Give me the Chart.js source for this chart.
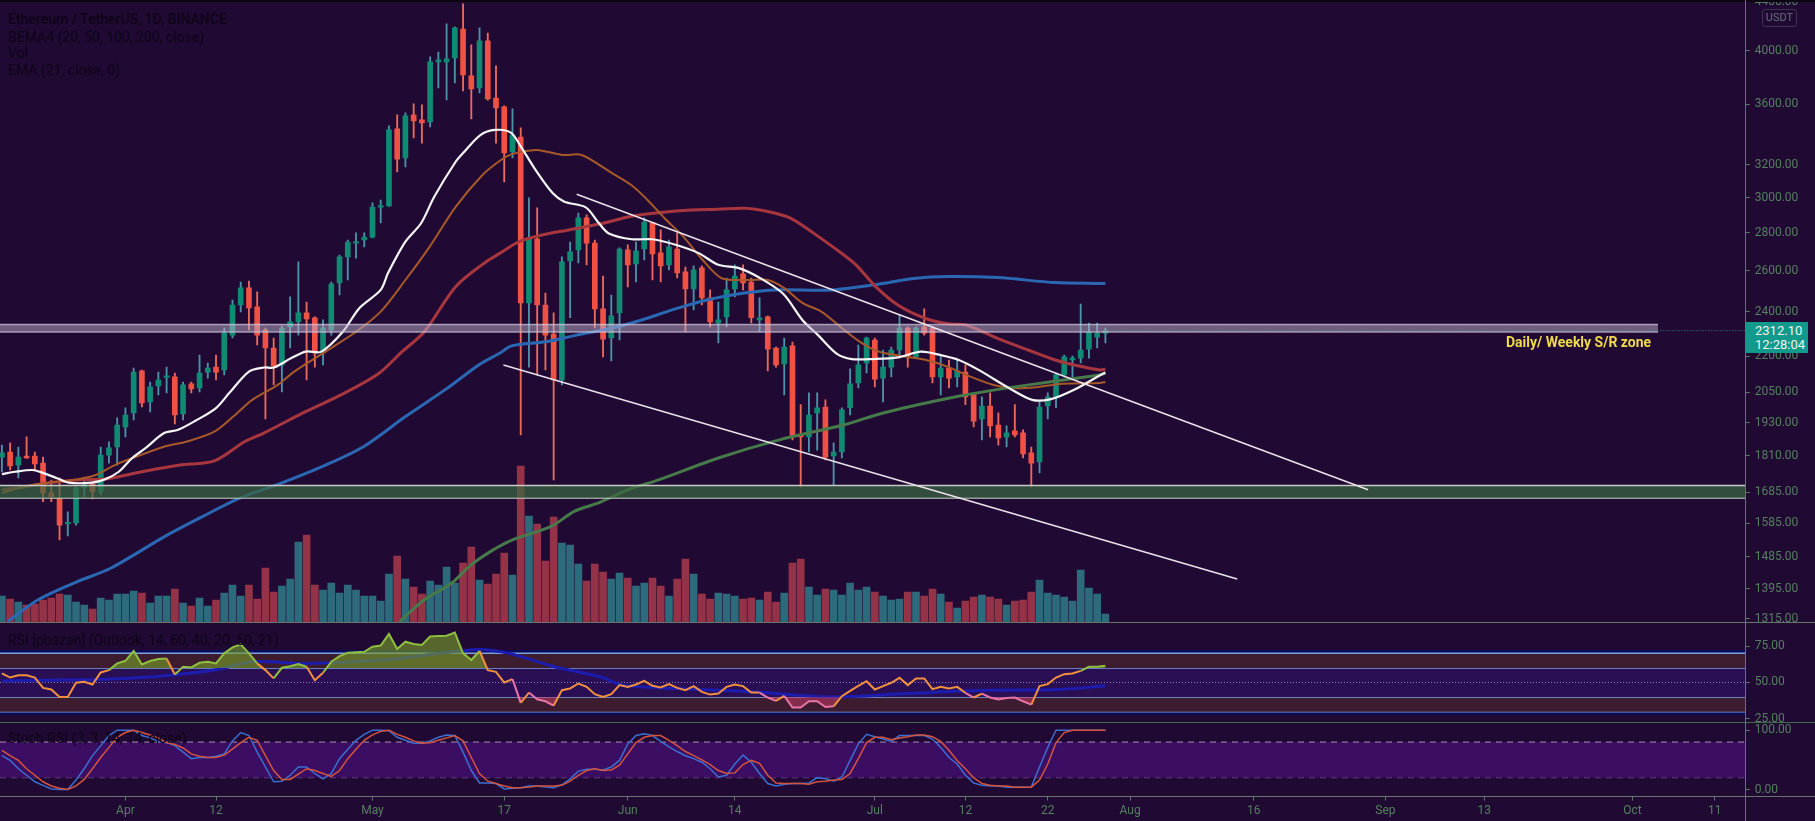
<!DOCTYPE html>
<html>
<head>
<meta charset="utf-8">
<title>ETH/USDT</title>
<script src="https://cdn.jsdelivr.net/npm/chart.js@4/dist/chart.umd.min.js"></script>
<style>
    html, body { margin: 0; padding: 0; background: #200a33; overflow: hidden; }
    #page { position: relative; width: 1815px; height: 821px; background: #200a33; font-family: Roboto, sans-serif; }
    canvas { position: absolute; left: 0; display: block; }
    .rule { position: absolute; background: #68756b; }
    .legend { position: absolute; left: 8px; color: #0e0418; font-size: 14px; white-space: nowrap; line-height: 16px; }
    #unit { position: absolute; left: 1762px; top: 9px; width: 33px; height: 16px; border: 1px solid #3c3550; border-radius: 3px; color: #66727a; font-size: 11px; line-height: 16px; text-align: center; }
    #priceTag { position: absolute; left: 1745px; width: 63px; height: 31px; background: #0f9a8c; color: #f2f2f2; font-size: 13px; line-height: 14px; padding-top: 2px; box-sizing: border-box; }
    #priceTag div { padding-left: 10px; }
    #zoneLabel { position: absolute; left: 1506px; top: 334px; color: #f0d94c; font-size: 14px; font-weight: 700; white-space: nowrap; }
</style>
</head>
<body>
<div id="page">
    <canvas id="priceChart" width="1815" height="622" style="top:0"></canvas>
    <canvas id="rsiChart" width="1815" height="100" style="top:622px"></canvas>
    <canvas id="stochChart" width="1815" height="99" style="top:722px"></canvas>

    <div class="rule" style="left:0;top:0;width:1815px;height:2px;background:#0b0610"></div>
    <div class="rule" style="left:0;top:622px;width:1815px;height:1px"></div>
    <div class="rule" style="left:0;top:722px;width:1815px;height:1px;background:#3f6e4c"></div>
    <div class="rule" style="left:0;top:796px;width:1815px;height:1px"></div>
    <div class="rule" style="left:1745px;top:0;width:1px;height:821px"></div>

    <div class="legend" style="top:11px;font-weight:500">Ethereum / TetherUS, 1D, BINANCE</div>
    <div class="legend" style="top:29px">BEMA4 (20, 50, 100, 200, close)</div>
    <div class="legend" style="top:45px">Vol</div>
    <div class="legend" style="top:62px">EMA (21, close, 0)</div>
    <div class="legend" style="top:632px">RSI [pbazan] (Outlook, 14, 60, 40, 20, 50, 21)</div>
    <div class="legend" style="top:730px">Stoch RSI (3, 3, 14, 14, close)</div>

    <div id="unit">USDT</div>
    <div id="priceTag"><div id="tagPrice"></div><div>12:28:04</div></div>
    <div id="zoneLabel">Daily/ Weekly S/R zone</div>
</div>

<script>
// ============================================
// Data
// ============================================

const opens = [
    1805, 1823, 1777, 1809, 1809, 1784, 1683, 1667, 1584, 1587,
    1700, 1713, 1686, 1812, 1841, 1915, 1968, 2137, 2011, 2075,
    2110, 2112, 1964, 2083, 2067, 2132, 2153, 2141, 2292, 2431,
    2514, 2422, 2315, 2235, 2162, 2329, 2352, 2394, 2371, 2213,
    2315, 2538, 2671, 2744, 2761, 2777, 2945, 2951, 3432, 3242,
    3527, 3493, 3479, 3913, 3913, 3944, 4173, 3807, 3719, 4077,
    3646, 3583, 3280, 3378, 2441, 2766, 2431, 2297, 2099, 2650,
    2708, 2883, 2744, 2413, 2279, 2394, 2708, 2635, 2713, 2855,
    2692, 2630, 2713, 2594, 2509, 2614, 2465, 2347, 2375, 2509,
    2584, 2543, 2361, 2375, 2235, 2166, 2244, 1885, 1878, 1968,
    1991, 1809, 1823, 1988, 2087, 2170, 2270, 2107, 2153, 2226,
    2324, 2196, 2329, 2324, 2112, 2149, 2112, 2132, 2039, 1945,
    1995, 1922, 1878, 1900, 1893, 1820, 1788, 1995, 2027, 2120,
    2183, 2191, 2230, 2283, 2301,
];

const closes = [
    1820, 1774, 1805, 1802, 1781, 1683, 1667, 1580, 1587, 1700,
    1709, 1686, 1812, 1838, 1922, 1960, 2132, 2007, 2071, 2099,
    2112, 1960, 2079, 2063, 2128, 2149, 2132, 2301, 2431, 2514,
    2417, 2292, 2235, 2157, 2324, 2352, 2394, 2366, 2213, 2324,
    2533, 2671, 2750, 2750, 2777, 2945, 2951, 3425, 3235, 3520,
    3486, 3472, 3913, 3928, 3936, 4182, 3814, 3711, 4077, 3639,
    3576, 3274, 3391, 2441, 2766, 2431, 2292, 2099, 2645, 2698,
    2883, 2744, 2413, 2274, 2380, 2713, 2630, 2703, 2860, 2687,
    2625, 2724, 2589, 2509, 2604, 2465, 2352, 2361, 2504, 2573,
    2538, 2371, 2371, 2230, 2162, 2239, 1878, 1878, 1960, 1988,
    1805, 1823, 1980, 2083, 2162, 2279, 2103, 2153, 2226, 2324,
    2196, 2324, 2301, 2112, 2149, 2107, 2137, 2031, 1937, 1995,
    1919, 1874, 1893, 1885, 1816, 1784, 1991, 2031, 2120, 2196,
    2191, 2226, 2306, 2301, 2312.10,
];

const highs = [
    1848, 1856, 1841, 1878, 1823, 1805, 1726, 1733, 1622, 1703,
    1726, 1719, 1841, 1860, 1949, 1988, 2149, 2140, 2091, 2132,
    2153, 2128, 2091, 2091, 2204, 2170, 2204, 2324, 2455, 2543,
    2548, 2494, 2324, 2279, 2333, 2470, 2645, 2445, 2375, 2361,
    2543, 2681, 2761, 2800, 2800, 2969, 2986, 3452, 3527, 3541,
    3604, 3597, 3951, 3989, 4215, 4190, 4383, 4045, 4182, 4141,
    3882, 3590, 3569, 3439, 2998, 2940, 2489, 2394, 2671, 2750,
    2911, 2900, 2761, 2573, 2479, 2719, 2735, 2750, 2883, 2860,
    2816, 2761, 2800, 2619, 2625, 2625, 2504, 2445, 2563, 2630,
    2630, 2563, 2465, 2380, 2239, 2279, 2261, 2000, 2047, 2047,
    2019, 1856, 1988, 2145, 2248, 2283, 2279, 2226, 2239, 2385,
    2329, 2329, 2413, 2329, 2196, 2183, 2183, 2162, 2047, 2031,
    2047, 1968, 1919, 2000, 1904, 1841, 2011, 2047, 2128, 2204,
    2200, 2436, 2347, 2347, 2324,
];

const lows = [
    1753, 1760, 1733, 1800, 1760, 1654, 1654, 1535, 1547, 1580,
    1670, 1663, 1676, 1784, 1777, 1878, 1941, 1991, 1972, 2039,
    2047, 1926, 1941, 2047, 2051, 2107, 2099, 2120, 2279, 2398,
    2315, 2248, 1945, 2079, 2051, 2235, 2292, 2099, 2153, 2162,
    2292, 2479, 2553, 2665, 2724, 2772, 2855, 2948, 3155, 3186,
    3371, 3338, 3445, 3719, 3632, 3755, 3697, 3500, 3682, 3630,
    3338, 3093, 3242, 1885, 2153, 2120, 2141, 1726, 2079, 2371,
    2640, 2630, 2324, 2196, 2179, 2270, 2519, 2543, 2655, 2553,
    2543, 2604, 2563, 2306, 2408, 2431, 2329, 2257, 2329, 2470,
    2504, 2347, 2306, 2137, 2153, 2039, 1867, 1703, 1823, 1830,
    1795, 1709, 1802, 1960, 2067, 2128, 2071, 2011, 2112, 2196,
    2153, 2191, 2292, 2087, 2039, 2067, 2071, 2000, 1915, 1867,
    1878, 1848, 1841, 1878, 1802, 1703, 1750, 1945, 1988, 2112,
    2112, 2170, 2191, 2235, 2257,
];

const volumes = [
    26, 23, 20, 17, 18, 22, 24, 28, 27, 20,
    17, 13, 24, 22, 28, 28, 31, 29, 19, 26,
    26, 33, 19, 16, 24, 16, 22, 29, 37, 26,
    37, 23, 54, 30, 36, 43, 80, 87, 37, 32,
    39, 29, 37, 32, 26, 26, 21, 48, 66, 43,
    35, 28, 41, 37, 55, 39, 59, 75, 42, 38,
    48, 69, 47, 156, 106, 98, 61, 105, 79, 77,
    58, 41, 58, 50, 43, 49, 44, 36, 39, 44,
    36, 26, 43, 63, 48, 28, 23, 29, 28, 26,
    23, 24, 22, 30, 20, 29, 59, 63, 35, 27,
    33, 32, 27, 39, 32, 35, 30, 26, 22, 23,
    30, 30, 26, 33, 28, 20, 14, 21, 25, 27,
    25, 23, 17, 21, 22, 30, 42, 29, 27, 25,
    21, 52, 34, 28, 8,
];

const ema20Idx = [0, 1.6, 3.7, 4.9, 6.7, 8.1, 10.9, 12.5, 14.2, 15.8, 17.4, 19.7, 21.4, 23.5, 26, 27.6, 30, 31.8, 33, 35.1, 36.9, 38.8, 41.4, 43.4, 46, 46.9, 49, 50.9, 52.5, 55.1, 56, 58.1, 59.9, 61.8, 63, 64.8, 66.9, 68.3, 70.9, 72.5, 73.7, 76.5, 79, 81.9, 84.6, 87, 89.5, 92.1, 94.9, 97.2, 99.1, 101.4, 103.2, 105.8, 108.8, 111.6, 114, 116.2, 118.6, 122.3, 125.1, 127.4, 130.2, 133.4, 134];
const ema20Vals = [1746, 1754, 1760, 1751, 1732, 1717, 1717, 1728, 1754, 1801, 1836, 1892, 1904, 1938, 1987, 2046, 2134, 2151, 2151, 2190, 2219, 2219, 2307, 2416, 2504, 2589, 2752, 2853, 3005, 3218, 3273, 3391, 3425, 3407, 3317, 3167, 3025, 2976, 2943, 2853, 2797, 2765, 2765, 2734, 2691, 2630, 2613, 2562, 2484, 2361, 2292, 2209, 2187, 2187, 2194, 2219, 2204, 2183, 2141, 2066, 2019, 2022, 2059, 2120, 2130];

const ema50Idx = [0, 2.1, 4.6, 9.1, 11.4, 13.7, 16, 19.7, 22.5, 25.8, 28.1, 30.4, 33.5, 35.5, 39.3, 43, 46, 49, 51.8, 55.1, 58.3, 60.6, 62, 64.8, 66.2, 68.1, 70.4, 73.9, 76.5, 78.4, 80.5, 82.8, 85.1, 87.4, 90.7, 93, 95, 97.2, 99.5, 101.8, 104.2, 106.5, 109.8, 112, 114.8, 117.6, 120.4, 122.7, 125.6, 128.8, 133.3, 134];
const ema50Vals = [1682, 1699, 1713, 1728, 1743, 1777, 1803, 1842, 1861, 1897, 1954, 2019, 2079, 2134, 2219, 2307, 2400, 2553, 2716, 2946, 3133, 3229, 3268, 3293, 3282, 3261, 3261, 3153, 3072, 2986, 2880, 2777, 2655, 2562, 2553, 2553, 2513, 2441, 2400, 2330, 2262, 2219, 2197, 2185, 2155, 2113, 2079, 2066, 2070, 2084, 2087, 2091];

const ema100Idx = [0, 2.6, 5.8, 9.1, 12.8, 17, 21.6, 25.8, 29.5, 31.8, 36.5, 41.6, 45.8, 48.6, 51.3, 55.1, 58.8, 60.5, 62.8, 65.1, 68.8, 73, 76.3, 80, 83.7, 87, 90.2, 93, 95.8, 98.6, 101.4, 103.7, 106.1, 108.8, 112, 114.8, 117.1, 120.9, 124.6, 127.9, 131.1, 133.3, 134];
const ema100Vals = [1693, 1702, 1717, 1726, 1730, 1754, 1777, 1792, 1861, 1892, 1967, 2046, 2127, 2219, 2307, 2520, 2646, 2691, 2752, 2783, 2816, 2853, 2891, 2914, 2928, 2932, 2938, 2919, 2881, 2797, 2708, 2630, 2520, 2431, 2370, 2343, 2338, 2277, 2226, 2183, 2155, 2141, 2144];

const ema200Idx = [0.7, 4.4, 9.1, 13.2, 19.7, 24.4, 29, 33.7, 39.3, 43.9, 49, 54.1, 57.9, 60.5, 61.9, 66, 69.8, 74, 77.7, 81.4, 85.6, 90.2, 93.9, 100.9, 106.1, 110.7, 114.8, 120.9, 127.9, 133.3, 134];
const ema200Vals = [1308, 1365, 1414, 1452, 1544, 1607, 1667, 1713, 1777, 1842, 1954, 2066, 2162, 2213, 2244, 2262, 2292, 2323, 2361, 2408, 2455, 2489, 2504, 2504, 2530, 2560, 2570, 2565, 2540, 2536, 2536];

const volEmaIdx = [48.3, 51.3, 54.6, 56.9, 59.3, 62, 66.7, 69.5, 72.6, 76, 80, 87, 94.4, 102.3, 106.9, 116.3, 122.8, 133.3, 134];
const volEmaVals = [1308, 1365, 1410, 1460, 1500, 1535, 1576, 1623, 1652, 1693, 1729, 1802, 1867, 1923, 1967, 2034, 2070, 2120, 2127];

const rsiValues = [
    56.2, 53.4, 55, 55, 53.4, 46.3, 45.2, 40.1, 40.1, 49.8,
    50.5, 48.6, 56.9, 58.5, 63.1, 64.9, 71.6, 62.4, 64.7, 66.1,
    66.5, 55.5, 60.8, 60.3, 63.5, 64.2, 63.1, 70, 74.1, 76.2,
    70, 63.1, 58.5, 52.8, 60.1, 61.2, 62.6, 60.8, 51.6, 56.7,
    64.2, 68.1, 70.4, 70.7, 71.1, 74.6, 75.3, 83.3, 73, 78,
    76.4, 75.7, 81.5, 81.9, 82.1, 84.2, 70, 65.4, 71.6, 58.5,
    57.3, 50, 52.3, 36, 43.1, 38.5, 37.1, 34.2, 44.7, 45.9,
    49.3, 47, 42, 40.1, 42, 48.2, 47, 48.6, 51.1, 47.7,
    46.6, 48.9, 46.3, 44.7, 47.5, 43.6, 41.7, 42.4, 47, 48.6,
    47.5, 43.1, 43.1, 39.7, 37.4, 40.8, 32.8, 32.8, 37.1, 37.1,
    33.2, 33.7, 40.6, 44.3, 47.7, 50.9, 45.2, 47.5, 49.8, 53.2,
    48.2, 52.8, 52.8, 45.4, 47, 45.9, 47, 42.9, 39.7, 42.4,
    39.7, 38.3, 39.4, 39.7, 37.1, 34.8, 47.5, 48.9, 53.4, 55.7,
    56.2, 58, 60.8, 60.8, 61.5,
];

const rsiMaIdx = [0, 4.4, 11.4, 18.4, 25.8, 30.4, 36.9, 46.2, 53.2, 57.9, 61.6, 67.1, 72.6, 75.4, 81.9, 91.2, 100.5, 109.8, 119.1, 128.4, 134];
const rsiMaVals = [51, 51.6, 52, 53.9, 58.5, 64.2, 63.1, 65.4, 70, 72.7, 70, 60.8, 53.9, 48.2, 45.9, 43.6, 40.1, 42.4, 44.7, 45.2, 47.7];

const stochK = [
    57, 49, 35, 24, 13, 7, 1, 0, 0, 16,
    35, 57, 74, 91, 100, 100, 100, 91, 87, 81,
    79, 74, 63, 52, 54, 54, 56, 60, 82, 96,
    91, 63, 38, 13, 14, 24, 38, 38, 27, 18,
    27, 52, 68, 83, 93, 100, 100, 99, 88, 83,
    78, 78, 82, 88, 92, 91, 63, 32, 11, 11,
    10, 1, 2, 3, 6, 6, 4, 3, 8, 18,
    31, 34, 34, 33, 38, 49, 77, 91, 94, 91,
    81, 72, 64, 57, 52, 46, 35, 21, 24, 43,
    58, 46, 27, 10, 6, 9, 10, 10, 11, 20,
    18, 14, 21, 49, 77, 93, 89, 85, 81, 91,
    91, 91, 91, 85, 71, 54, 43, 24, 11, 7,
    6, 6, 4, 4, 4, 4, 38, 71, 100, 100,
    100, 100, 100, 100, 100,
];

const stochD = [
    66, 57, 49, 35, 24, 13, 6, 2, 0, 6,
    17, 35, 54, 71, 88, 96, 100, 96, 92, 87,
    79, 76, 70, 60, 56, 54, 54, 58, 68, 79,
    88, 83, 57, 32, 17, 17, 26, 35, 32, 27,
    22, 32, 52, 68, 83, 92, 98, 100, 93, 88,
    82, 78, 79, 83, 87, 91, 82, 54, 27, 14,
    10, 6, 3, 3, 4, 6, 6, 6, 7, 14,
    24, 32, 35, 32, 33, 41, 60, 79, 88, 91,
    91, 83, 74, 64, 57, 50, 42, 32, 27, 28,
    42, 49, 44, 24, 11, 10, 10, 10, 9, 13,
    14, 16, 17, 27, 52, 79, 88, 88, 84, 87,
    89, 92, 92, 89, 81, 66, 49, 35, 20, 10,
    7, 6, 6, 4, 4, 4, 16, 43, 79, 96,
    100, 100, 100, 100, 100,
];

const priceTicks = [1315, 1395, 1485, 1585, 1685, 1810, 1930, 2050, 2200, 2400, 2600, 2800, 3000, 3200, 3600, 4000, 4400];
const rsiTicks = [25, 50, 75];
const stochTicks = [0, 100];
const xTickIdx = [15, 26, 45, 61, 76, 89, 106, 117, 127, 137, 152, 168, 180, 198, 208];
const xTickLabels = ["Apr", "12", "May", "17", "Jun", "14", "Jul", "12", "22", "Aug", "16", "Sep", "13", "Oct", "11"];

// Drawings on the price pane: [start index, start price, end index, end price]
const upperTrend = [69.8, 3020, 165.9, 1693];
const lowerTrend = [60.9, 2162, 150, 1422];
const srZone = [2306, 2340];
const srZoneEnd = 201.1;
const demandZone = [1666, 1707];

// ============================================
// Helpers
// ============================================

const X_MIN = -0.23;
const X_MAX = 211.75;
const AXIS_COLOR = "#5f7a66";
const LABEL_COLOR = "#55805f";
const FONT = { family: "Roboto, sans-serif", size: 12 };
const AXIS_WIDTH = 69.3;

const isUp = (i) => closes[i] >= opens[i];

function toPoints(idx, vals) {
    return idx.map((x, i) => ({ x: x, y: vals[i] }));
}

function bySeries(vals) {
    return vals.map((v, i) => ({ x: i, y: v }));
}

function level(value, end) {
    return [{ x: X_MIN, y: value }, { x: end === undefined ? X_MAX : end, y: value }];
}

function trend(t) {
    return [{ x: t[0], y: t[1] }, { x: t[2], y: t[3] }];
}

function lineSet(data, color, width, order, extra) {
    return Object.assign({
        type: "line",
        data: data,
        borderColor: color,
        borderWidth: width,
        pointRadius: 0,
        tension: 0,
        fill: false,
        order: order,
    }, extra || {});
}

// tick labels must not push the plot area in, the panes touch each other
function noLabelPadding(scale) {
    scale.paddingTop = 0;
    scale.paddingBottom = 0;
    scale.paddingLeft = 0;
    scale.paddingRight = 0;
}

function hiddenX() {
    return { type: "linear", min: X_MIN, max: X_MAX, offset: false, display: false };
}

function rightAxis(min, max, ticks, type) {
    return {
        type: type || "linear",
        position: "right",
        min: min,
        max: max,
        afterFit: (scale) => {
            scale.width = AXIS_WIDTH;
            noLabelPadding(scale);
        },
        afterBuildTicks: (scale) => { scale.ticks = ticks.map((v) => ({ value: v })); },
        border: { display: false },
        grid: { drawOnChartArea: false, tickLength: 4, color: AXIS_COLOR },
        ticks: {
            autoSkip: false,
            maxRotation: 0,
            padding: 5,
            color: LABEL_COLOR,
            font: FONT,
            callback: (v) => Number(v).toFixed(2),
        },
    };
}

const baseOptions = {
    responsive: false,
    animation: false,
    devicePixelRatio: 1,
    events: [],
    layout: { padding: 0 },
    plugins: { legend: { display: false }, tooltip: { enabled: false } },
};

// ============================================
// Price pane
// ============================================

const candleIdx = opens.map((_, i) => i);

new Chart(document.getElementById("priceChart"), {
    type: "bar",
    data: {
        datasets: [
            {
                yAxisID: "vol",
                data: volumes.map((v, i) => ({ x: i, y: v })),
                backgroundColor: candleIdx.map((i) => (isUp(i) ? "#2d6a7c" : "#943247")),
                barThickness: 7,
                grouped: false,
                order: 100,
            },
            {
                data: candleIdx.map((i) => ({ x: i, y: [lows[i], highs[i]] })),
                backgroundColor: candleIdx.map((i) => (isUp(i) ? "#4a93a8" : "#ea6a5c")),
                barThickness: 1.2,
                grouped: false,
                order: 90,
            },
            {
                data: candleIdx.map((i) => ({ x: i, y: [opens[i], closes[i]] })),
                backgroundColor: candleIdx.map((i) => (isUp(i) ? "#0f8a73" : "#ef5145")),
                barThickness: 5,
                minBarLength: 1.5,
                grouped: false,
                order: 80,
            },
            lineSet(toPoints(ema200Idx, ema200Vals), "#2a68b4", 3, 70, { tension: 0.3 }),
            lineSet(toPoints(ema100Idx, ema100Vals), "#a8363f", 3, 69, { tension: 0.3 }),
            lineSet(toPoints(ema50Idx, ema50Vals), "#a8592a", 2, 68, { tension: 0.3 }),
            lineSet(toPoints(volEmaIdx, volEmaVals), "#477a4a", 3, 67, { tension: 0.3 }),
            lineSet(toPoints(ema20Idx, ema20Vals), "#f5f5f5", 2.2, 66, { tension: 0.3 }),
            lineSet(level(srZone[1], srZoneEnd), "rgba(215,205,225,0.7)", 1.5, 55, { fill: "+1", backgroundColor: "rgba(190,175,205,0.5)" }),
            lineSet(level(srZone[0], srZoneEnd), "rgba(215,205,225,0.7)", 1.5, 55.1),
            lineSet(level(demandZone[1]), "#c8cbc8", 1.5, 54, { fill: "+1", backgroundColor: "rgba(58,104,66,0.7)" }),
            lineSet(level(demandZone[0]), "#c8cbc8", 1.5, 54.1),
            lineSet(trend(upperTrend), "#ebe3eb", 1.5, 50),
            lineSet(trend(lowerTrend), "#ebe3eb", 1.5, 50),
            lineSet([{ x: 134, y: closes[134] }, { x: X_MAX, y: closes[134] }], "#3a8a80", 1, 49, { borderDash: [1, 2] }),
        ],
    },
    options: Object.assign({}, baseOptions, {
        scales: {
            x: hiddenX(),
            y: rightAxis(1307, 4417, priceTicks, "logarithmic"),
            vol: { type: "linear", min: 0, max: 622, display: false },
        },
    }),
    plugins: [{
        id: "priceTag",
        afterDraw(chart) {
            const y = chart.scales.y.getPixelForValue(closes[134]);
            const tag = document.getElementById("priceTag");
            tag.style.top = Math.round(y - 9) + "px";
            document.getElementById("tagPrice").textContent = closes[134].toFixed(2);
        },
    }],
});

// ============================================
// RSI pane
// ============================================

new Chart(document.getElementById("rsiChart"), {
    type: "line",
    data: {
        datasets: [
            lineSet(bySeries(rsiValues), "#f09040", 2, 10, {
                segment: {
                    borderColor: (ctx) => {
                        const v = ctx.p1.parsed.y;
                        if (v > 60) return "#8fbf40";
                        if (v < 40) return "#e874a8";
                        return "#f09040";
                    },
                },
            }),
            lineSet(bySeries(rsiValues), "transparent", 0, 20, {
                fill: { target: { value: 60 }, above: "rgba(120,160,40,0.62)", below: "transparent" },
            }),
            lineSet(bySeries(rsiValues), "transparent", 0, 21, {
                fill: { target: { value: 40 }, above: "transparent", below: "rgba(205,60,105,0.5)" },
            }),
            lineSet(toPoints(rsiMaIdx, rsiMaVals), "#1c1cae", 3, 30, { tension: 0.3 }),
            lineSet(level(50), "#8a84c8", 1, 40, { borderDash: [1, 2] }),
            lineSet(level(70), "#7aa4e0", 1.5, 50, { fill: "+1", backgroundColor: "#3d1c30" }),
            lineSet(level(60), "#7aa4e0", 1.5, 51, { fill: "+1", backgroundColor: "#2b0f55" }),
            lineSet(level(40), "#7aa4e0", 1.5, 52, { fill: "+1", backgroundColor: "#3d1c30" }),
            lineSet(level(30), "#7aa4e0", 1.5, 53),
            lineSet(level(71.5), "#0a0a5c", 2.5, 60),
            lineSet(level(28.5), "#0a0a5c", 2.5, 60),
        ],
    },
    options: Object.assign({}, baseOptions, {
        scales: {
            x: hiddenX(),
            y: rightAxis(22.9, 91.5, rsiTicks),
        },
    }),
});

// ============================================
// Stoch RSI pane
// ============================================

new Chart(document.getElementById("stochChart"), {
    type: "line",
    data: {
        datasets: [
            lineSet(bySeries(stochD), "#d4553e", 1.5, 10),
            lineSet(bySeries(stochK), "#3a6fd0", 1.5, 11),
            lineSet(level(80), "#a98cb0", 1, 20, { borderDash: [6, 5], fill: "+1", backgroundColor: "#3b0e63" }),
            lineSet(level(20), "#a98cb0", 1, 21, { borderDash: [6, 5] }),
        ],
    },
    options: Object.assign({}, baseOptions, {
        scales: {
            x: {
                type: "linear",
                position: "bottom",
                min: X_MIN,
                max: X_MAX,
                offset: false,
                afterFit: (scale) => {
                    scale.height = 24.5;
                    noLabelPadding(scale);
                },
                afterBuildTicks: (scale) => { scale.ticks = xTickIdx.map((v) => ({ value: v })); },
                border: { display: false },
                grid: { drawOnChartArea: false, tickLength: 4, color: AXIS_COLOR },
                ticks: {
                    autoSkip: false,
                    maxRotation: 0,
                    padding: 3,
                    color: LABEL_COLOR,
                    font: FONT,
                    callback: (v) => xTickLabels[xTickIdx.indexOf(v)],
                },
            },
            y: rightAxis(-11.8, 113.8, stochTicks),
        },
    }),
});
</script>
</body>
</html>
